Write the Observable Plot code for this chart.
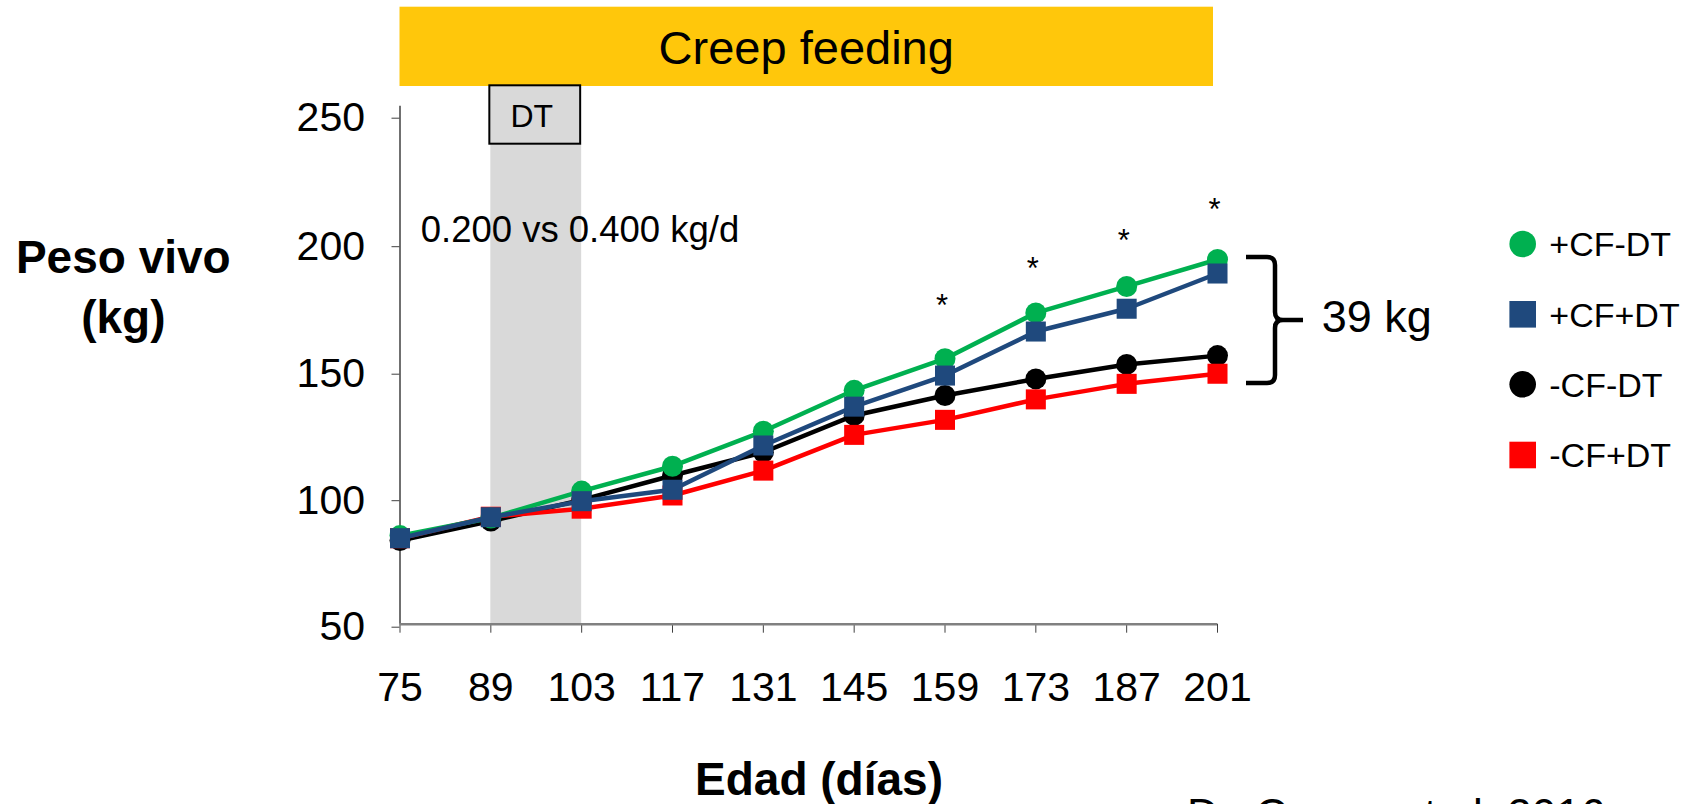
<!DOCTYPE html>
<html><head><meta charset="utf-8">
<script src="https://cdn.jsdelivr.net/npm/d3@7"></script>
<script src="https://cdn.jsdelivr.net/npm/@observablehq/plot@0.6"></script>
<style>
html,body{margin:0;padding:0;background:#fff;overflow:hidden;}
#chart svg{display:block;overflow:hidden;}
</style></head><body><div id="chart"></div>
<script>
// ---- data ----
const ages = [75, 89, 103, 117, 131, 145, 159, 173, 187, 201];
const cfNoDt   = [84.2, 91.0, 101.4, 111.0, 124.5, 140.3, 152.5, 170.2, 180.4, 190.8]; // +CF-DT
const cfDt     = [83.2, 91.3, 97.5, 101.9, 119.0, 134.0, 146.0, 163.0, 171.8, 185.4];  // +CF+DT
const noCfNoDt = [82.3, 89.8, 98.0, 107.4, 116.4, 130.6, 138.3, 144.7, 150.3, 153.7];  // -CF-DT
const noCfDt   = [83.2, 91.5, 94.6, 99.7, 109.3, 123.1, 128.9, 136.8, 142.8, 146.7];   // -CF+DT
const seriesNames = ["+CF-DT", "+CF+DT", "-CF-DT", "-CF+DT"];
const seriesColors = ["#00B050", "#1F497D", "#000000", "#FF0000"];
const seriesSymbols = ["circle", "square", "circle", "square"];
const yTicks = [50, 100, 150, 200, 250];
const sigAges = [159, 173, 187, 201];
const sigY = [173, 187, 198, 210];
const dtPeriod = [89, 103];
const creepPeriod = [75, 201];
const creepLabel = "Creep feeding";
const dtLabel = "DT";
const rateLabel = "0.200 vs 0.400 kg/d";
const gapLabel = "39 kg";
const yTitle = ["Peso vivo", "(kg)"];
const xTitle = "Edad (días)";
const sourceLabel = "Do Carmo et al. 2016";

// ---- styling ----
const W = 1706, H = 804;
const FONT = "'Liberation Sans', Arial, Helvetica, sans-serif";
const yLabelShift = [3, 6, 9, 11, 12]; // vertical offset of each y tick label (px)

// ---- build ----
const seriesValues = [cfNoDt, cfDt, noCfNoDt, noCfDt];
const rows = [];
seriesNames.forEach((s, i) => ages.forEach((a, j) => rows.push({series: s, age: a, w: seriesValues[i][j]})));
const drawOrder = [2, 3, 0, 1];

const seriesMarks = drawOrder.flatMap(i => {
  const d = rows.filter(r => r.series === seriesNames[i]);
  return [
    Plot.line(d, {x: "age", y: "w", stroke: seriesColors[i], strokeWidth: 4.5}),
    Plot.dot(d, {x: "age", y: "w", fill: seriesColors[i], stroke: "none",
      symbol: seriesSymbols[i], r: seriesSymbols[i] === "square" ? 11.3 : 10.5})
  ];
});

const yAxisMarks = yTicks.map((t, i) =>
  Plot.axisY([t], {tickSize: 8, tickPadding: 27, fontSize: 41, dy: yLabelShift[i], stroke: "#404040", fill: "black", label: null})
);

const plot = Plot.plot({
  width: W, height: H,
  marginLeft: 399.5, marginRight: 489, marginTop: 105.7, marginBottom: 180.3,
  style: {fontFamily: FONT, color: "black", background: "white", overflow: "hidden"},
  x: {type: "linear", domain: [creepPeriod[0], creepPeriod[1]], label: null},
  y: {domain: [yTicks[0], yTicks[yTicks.length - 1]], label: null},
  marks: [
    Plot.ruleX([ages[0]], {y1: yTicks[0], y2: yTicks[yTicks.length - 1], stroke: "#404040", strokeWidth: 1.5}),
    ...yAxisMarks,
    Plot.axisX(ages, {tickSize: 9, tickPadding: 39, fontSize: 41, stroke: "#404040", fill: "black", label: null}),
    Plot.ruleY([yTicks[0]], {x1: ages[0], x2: ages[ages.length - 1], stroke: "#808080", strokeWidth: 2.5}),
    ...seriesMarks,
    Plot.text(sigAges, {x: d => d, y: (d, i) => sigY[i], text: () => "*", fontSize: 31, dx: -3, fill: "black"})
  ]
});

document.getElementById("chart").append(plot);

const sx = plot.scale("x").apply, sy = plot.scale("y").apply;
const svg = d3.select(plot);

// grey DT band behind everything
const boxTop = 85.3, boxBottom = 143.7;
svg.insert("rect", ":first-child")
  .attr("x", sx(dtPeriod[0])).attr("width", sx(dtPeriod[1]) - sx(dtPeriod[0]))
  .attr("y", boxBottom).attr("height", sy(yTicks[0]) - boxBottom)
  .attr("fill", "#D9D9D9");

const g = svg.append("g").attr("font-family", FONT).attr("fill", "black").attr("text-anchor", "start");

// creep feeding bar
g.append("rect").attr("x", sx(creepPeriod[0])).attr("width", sx(creepPeriod[1]) - sx(creepPeriod[0]) - 4)
  .attr("y", 6.7).attr("height", 79.3).attr("fill", "#FFC70B");
g.append("text").attr("x", (sx(creepPeriod[0]) + sx(creepPeriod[1]) - 4) / 2).attr("y", 64)
  .attr("text-anchor", "middle").attr("font-size", 47).text(creepLabel);

// DT box
g.append("rect").attr("x", sx(dtPeriod[0]) - 1).attr("width", sx(dtPeriod[1]) - sx(dtPeriod[0]))
  .attr("y", boxTop).attr("height", boxBottom - boxTop)
  .attr("fill", "#D9D9D9").attr("stroke", "black").attr("stroke-width", 2);
g.append("text").attr("x", (sx(dtPeriod[0]) + sx(dtPeriod[1])) / 2 - 4).attr("y", 126.7)
  .attr("text-anchor", "middle").attr("font-size", 32).text(dtLabel);

// rate annotation
g.append("text").attr("x", 420.7).attr("y", 242.3).attr("text-anchor", "start").attr("font-size", 36.5).text(rateLabel);

// brace
g.append("path")
  .attr("d", "M1246,257 L1267,257 Q1275,257 1275,265 L1275,312 Q1275,320 1283,320 L1303,320 M1283,320 Q1275,320 1275,328 L1275,375 Q1275,383 1267,383 L1246,383")
  .attr("fill", "none").attr("stroke", "black").attr("stroke-width", 4.5);
g.append("text").attr("x", 1321.7).attr("y", 332.3).attr("text-anchor", "start").attr("font-size", 45).text(gapLabel);

// legend
const legY = [244, 314.3, 384.3, 455];
seriesNames.forEach((s, i) => {
  if (seriesSymbols[i] === "circle") {
    g.append("circle").attr("cx", 1522.7).attr("cy", legY[i]).attr("r", 13.3).attr("fill", seriesColors[i]);
  } else {
    g.append("rect").attr("x", 1522.7 - 13.3).attr("y", legY[i] - 13.3).attr("width", 26.6).attr("height", 26.6).attr("fill", seriesColors[i]);
  }
  g.append("text").attr("x", 1549.3).attr("y", legY[i] + 12.3).attr("text-anchor", "start").attr("font-size", 34).text(s);
});

// axis titles
yTitle.forEach((t, i) => {
  g.append("text").attr("x", 123.3).attr("y", 272.7 + i * 60).attr("text-anchor", "middle")
    .attr("font-size", 46).attr("font-weight", "bold").text(t);
});
g.append("text").attr("x", 819).attr("y", 795).attr("text-anchor", "middle")
  .attr("font-size", 46).attr("font-weight", "bold").text(xTitle);

// source (cut off at bottom edge, as in the original slide)
g.append("text").attr("x", 1187).attr("y", 830).attr("text-anchor", "start").attr("font-size", 44).text(sourceLabel);
</script></body></html>
